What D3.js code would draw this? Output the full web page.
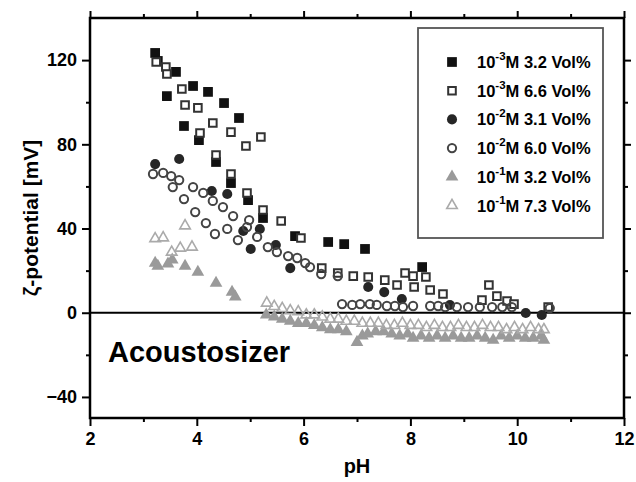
<!DOCTYPE html>
<html lang="en">
<head>
    <meta charset="utf-8">
    <script src="https://d3js.org/d3.v7.min.js"></script>
    <style>
        body { margin: 0; background: #fff; }
        text { font-family: "Liberation Sans", Arial, sans-serif; font-weight: bold; }
    </style>
</head>
<body>
    <svg></svg>
    <script>
        // data: [pH, zeta potential mV]
        const sq3_2 = [[3.22,123.4],[3.27,119.6],[3.61,114.4],[3.44,102.9],[3.93,107.7],[4.21,104.9],
            [4.51,99.6],[4.79,92.5],[3.76,88.7],[4.04,82.0],[4.36,71.6],[4.64,61.6],[4.96,53.5],
            [5.24,45.0],[5.84,36.4],[6.46,33.6],[6.76,32.6],[7.15,30.3],[8.22,21.7]]
        const sq6_6 = [[3.24,119.1],[3.42,116.7],[3.44,113.4],[3.72,106.3],[3.78,98.7],[4.02,97.3],
            [4.30,90.1],[4.64,85.8],[4.92,79.2],[5.20,83.5],[4.06,85.4],[4.36,74.9],[4.64,65.9],
            [4.94,56.9],[5.24,48.8],[5.58,43.6],[5.95,35.5],[6.34,21.2],[6.64,18.9],[6.93,17.4],
            [7.21,17.0],[7.52,15.5],[7.75,13.2],[7.90,18.9],[8.05,17.4],[8.29,17.0],[8.07,12.2],
            [8.37,10.8],[8.61,8.9],[9.34,6.0],[9.47,13.2],[9.62,7.9],[9.81,5.6],[9.94,4.1],[10.58,2.7]]
        const ci3_1 = [[3.22,70.6],[3.67,73.0],[4.28,57.8],[4.57,56.4],[4.87,38.8],[5.18,39.8],
            [5.01,30.3],[5.48,32.2],[5.75,21.2],[7.21,12.2],[7.51,9.8],[7.84,6.5],[8.74,3.7],
            [10.16,-0.1],[10.46,-1.1]]
        const ci6_0 = [[3.18,65.9],[3.37,66.4],[3.52,64.9],[3.67,63.0],[3.55,59.7],[3.93,59.7],
            [4.12,56.9],[4.30,53.1],[3.76,54.0],[3.97,47.8],[4.17,42.6],[4.34,37.4],[4.49,50.2],
            [4.68,45.9],[4.57,39.8],[4.77,34.5],[4.98,44.0],[4.94,40.7],[5.13,36.0],[5.33,31.2],
            [5.50,28.8],[5.71,26.9],[5.88,26.0],[6.03,23.6],[6.12,21.7],[6.33,18.4],[6.64,17.4],
            [6.72,4.1],[6.91,3.7],[7.06,4.1],[7.24,4.1],[7.37,3.7],[7.56,3.2],[7.71,3.2],[7.86,2.7],
            [8.05,3.2],[8.37,3.2],[8.52,3.2],[8.65,2.7],[8.87,2.7],[9.08,2.7],[9.30,2.7],[9.53,2.7],
            [9.72,2.7],[9.90,2.7],[10.61,2.2]]
        const tr3_2 = [[3.22,23.6],[3.27,22.2],[3.46,23.2],[3.54,25.1],[3.78,22.2],[4.02,19.3],
            [4.36,14.1],[4.66,9.8],[4.72,7.5],[5.30,-1],[5.45,-2],[5.60,-3],[5.75,-4],[5.90,-5],
            [6.05,-5],[6.20,-6],[6.35,-7],[6.50,-8],[6.65,-8],[6.80,-9],[7.00,-14],[7.10,-11],
            [7.20,-10],[7.35,-9],[7.50,-9],[7.65,-10],[7.80,-11],[7.95,-10],[8.05,-12],[8.20,-11],
            [8.35,-12],[8.50,-11],[8.65,-12],[8.80,-11],[8.95,-12],[9.10,-12],[9.25,-11],[9.40,-12],
            [9.55,-13],[9.70,-11],[9.85,-12],[10.00,-11],[10.15,-12],[10.30,-12],[10.45,-11],[10.50,-13]]
        const tr7_3 = [[3.22,35.2],[3.37,35.6],[3.78,41.3],[3.53,28.8],[3.69,30.7],[3.91,31.2],
            [5.31,4.6],[5.45,3],[5.60,2],[5.75,1],[5.90,0.5],[6.05,-1],[6.20,-1],[6.35,-2],
            [6.50,-3],[6.65,-3],[6.80,-4],[6.95,-4],[7.10,-5],[7.25,-5],[7.40,-5],[7.55,-6],
            [7.70,-6],[7.85,-5],[8.00,-6],[8.15,-6],[8.30,-7],[8.45,-6],[8.60,-7],[8.75,-7],
            [8.90,-6],[9.05,-7],[9.20,-7],[9.35,-6],[9.50,-7],[9.65,-7],[9.80,-8],[9.95,-7],
            [10.10,-8],[10.25,-7],[10.40,-8],[10.50,-8]]

        const legendExp = ['-3', '-3', '-2', '-2', '-1', '-1']
        const legendRest = ['M 3.2 Vol%', 'M 6.6 Vol%', 'M 3.1 Vol%', 'M 6.0 Vol%', 'M 3.2 Vol%', 'M 7.3 Vol%']
        const xTicks = [2, 4, 6, 8, 10, 12]
        const xMinor = [3, 5, 7, 9, 11]
        const yTicks = [-40, 0, 40, 80, 120]
        const yMinor = [-20, 20, 60, 100]

        const series = [
            { data: sq3_2, shape: d3.symbolSquare, size: 95, fill: '#111', stroke: 'none', sw: 0 },
            { data: sq6_6, shape: d3.symbolSquare, size: 58, fill: '#fff', stroke: '#333', sw: 2 },
            { data: ci3_1, shape: d3.symbolCircle, size: 80, fill: '#262626', stroke: 'none', sw: 0 },
            { data: ci6_0, shape: d3.symbolCircle, size: 54, fill: 'none', stroke: '#444', sw: 2 },
            { data: tr3_2, shape: d3.symbolTriangle, size: 70, fill: '#9a9a9a', stroke: 'none', sw: 0 },
            { data: tr7_3, shape: d3.symbolTriangle, size: 48, fill: 'none', stroke: '#aaa', sw: 1.6 }
        ]

        const W = 636, H = 482
        const svg = d3.select('svg').attr('width', W).attr('height', H)

        const x = d3.scaleLinear().domain([2, 12]).range([90, 624])
        const y = d3.scaleLinear().domain([-50, 140]).range([418, 18])

        function styleAxis(g) {
            g.select('.domain').remove()
            g.selectAll('line').attr('stroke', '#000').attr('stroke-width', 2)
            g.selectAll('text').attr('fill', '#000').style('font-size', '18px')
        }

        // bottom
        svg.append('g').attr('transform', `translate(0,${y(-50)})`)
            .call(d3.axisBottom(x).tickValues(xTicks).tickSize(8).tickPadding(6).tickSizeOuter(0))
            .call(styleAxis)
        svg.append('g').attr('transform', `translate(0,${y(-50)})`)
            .call(d3.axisBottom(x).tickValues(xMinor).tickSize(4).tickFormat('').tickSizeOuter(0))
            .call(styleAxis)
        // top
        svg.append('g').attr('transform', `translate(0,${y(140)})`)
            .call(d3.axisTop(x).tickValues(xTicks).tickSize(7).tickFormat('').tickSizeOuter(0))
            .call(styleAxis)
        svg.append('g').attr('transform', `translate(0,${y(140)})`)
            .call(d3.axisTop(x).tickValues(xMinor).tickSize(4).tickFormat('').tickSizeOuter(0))
            .call(styleAxis)
        // left
        svg.append('g').attr('transform', `translate(${x(2)},0)`)
            .call(d3.axisLeft(y).tickValues(yTicks).tickSize(8).tickPadding(5).tickSizeOuter(0))
            .call(styleAxis)
        svg.append('g').attr('transform', `translate(${x(2)},0)`)
            .call(d3.axisLeft(y).tickValues(yMinor).tickSize(4).tickFormat('').tickSizeOuter(0))
            .call(styleAxis)
        // right
        svg.append('g').attr('transform', `translate(${x(12)},0)`)
            .call(d3.axisRight(y).tickValues(yTicks).tickSize(7).tickFormat('').tickSizeOuter(0))
            .call(styleAxis)
        svg.append('g').attr('transform', `translate(${x(12)},0)`)
            .call(d3.axisRight(y).tickValues(yMinor).tickSize(4).tickFormat('').tickSizeOuter(0))
            .call(styleAxis)

        // frame
        svg.append('rect')
            .attr('x', x(2)).attr('y', y(140))
            .attr('width', x(12) - x(2)).attr('height', y(-50) - y(140))
            .attr('fill', 'none').attr('stroke', '#000').attr('stroke-width', 2.5)

        // zero line
        svg.append('line')
            .attr('x1', x(2)).attr('x2', x(12)).attr('y1', y(0)).attr('y2', y(0))
            .attr('stroke', '#000').attr('stroke-width', 2)

        // points
        series.forEach(s => {
            svg.append('g').selectAll('path')
                .data(s.data)
                .enter()
                .append('path')
                .attr('d', d3.symbol().type(s.shape).size(s.size))
                .attr('transform', d => `translate(${x(d[0])},${y(d[1])})`)
                .attr('fill', s.fill)
                .attr('stroke', s.stroke)
                .attr('stroke-width', s.sw)
        })

        // legend
        const lg = svg.append('g')
        lg.append('rect')
            .attr('x', 418).attr('y', 28).attr('width', 185).attr('height', 210)
            .attr('fill', '#fff').attr('stroke', '#555').attr('stroke-width', 1.8)
        series.forEach((s, i) => {
            const cy = 62 + i * 28.7
            lg.append('path')
                .attr('d', d3.symbol().type(s.shape).size(s.size))
                .attr('transform', `translate(452,${cy})`)
                .attr('fill', s.fill)
                .attr('stroke', s.stroke)
                .attr('stroke-width', s.sw)
            const t = lg.append('text')
                .attr('x', 477).attr('y', cy + 6)
                .style('font-size', '16.5px')
            t.append('tspan').text('10')
            t.append('tspan').attr('dy', -8).style('font-size', '11.5px').text(legendExp[i])
            t.append('tspan').attr('dy', 8).text(legendRest[i])
        })

        // labels
        svg.append('text')
            .attr('x', 108).attr('y', 362)
            .style('font-size', '29px')
            .text('Acoustosizer')

        svg.append('text')
            .attr('x', x(7)).attr('y', 473)
            .attr('text-anchor', 'middle')
            .style('font-size', '20px')
            .text('pH')

        svg.append('text')
            .attr('transform', `translate(38,${y(45)}) rotate(-90)`)
            .attr('text-anchor', 'middle')
            .style('font-size', '21px')
            .text('ζ-potential [mV]')
    </script>
</body>
</html>
